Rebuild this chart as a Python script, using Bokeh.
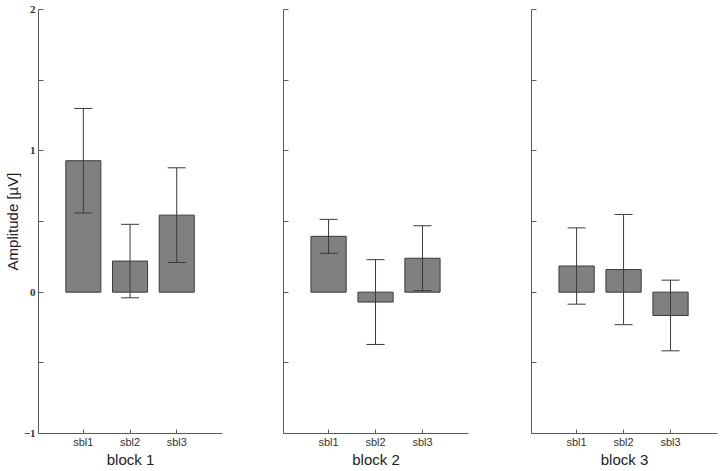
from bokeh.plotting import figure
from bokeh.layouts import row
from bokeh.models import FixedTicker, Whisker, ColumnDataSource, TeeHead
from bokeh.embed import file_html
from bokeh.resources import INLINE

categories = ["sbl1", "sbl2", "sbl3"]
block_names = ["block 1", "block 2", "block 3"]

block1_mean = [0.93, 0.22, 0.545]
block1_err = [0.37, 0.26, 0.335]
block2_mean = [0.395, -0.07, 0.24]
block2_err = [0.12, 0.30, 0.23]
block3_mean = [0.185, 0.16, -0.165]
block3_err = [0.27, 0.39, 0.25]

y_ticks = [-1, 0, 1, 2]
y_minor_ticks = [-0.5, 0.5, 1.5]

AXIS_COLOR = "#5a5a5a"
BAR_FILL = "#808080"
BAR_LINE = "#3a3a3a"
ERR_COLOR = "#3a3a3a"


def make_panel(name, means, errs, first, width, min_left, min_right, x_start, x_end):
    p = figure(width=width, height=471, x_range=(x_start, x_end), y_range=(-1, 2),
               output_backend="svg", toolbar_location=None,
               min_border_left=min_left, min_border_right=min_right,
               min_border_top=9, min_border_bottom=38)
    p.outline_line_color = None
    p.xgrid.visible = False
    p.ygrid.visible = False
    p.background_fill_color = "white"

    xs = list(range(1, len(categories) + 1))
    upper = [m + e for m, e in zip(means, errs)]
    lower = [m - e for m, e in zip(means, errs)]
    src = ColumnDataSource(dict(x=xs, top=means, upper=upper, lower=lower))

    p.vbar(x="x", top="top", bottom=0, width=0.75, source=src,
           fill_color=BAR_FILL, line_color=BAR_LINE, line_width=1)
    w = Whisker(source=src, base="x", upper="upper", lower="lower",
                line_color=ERR_COLOR, line_width=1, level="overlay",
                upper_head=TeeHead(size=18, line_color=ERR_COLOR, line_width=1),
                lower_head=TeeHead(size=18, line_color=ERR_COLOR, line_width=1))
    p.add_layout(w)

    # x axis
    xa = p.xaxis[0]
    xa.ticker = FixedTicker(ticks=xs, minor_ticks=[])
    xa.major_label_overrides = {x: c for x, c in zip(xs, categories)}
    xa.major_tick_in = 4
    xa.major_tick_out = 0
    xa.minor_tick_line_color = None
    xa.axis_line_color = AXIS_COLOR
    xa.major_tick_line_color = AXIS_COLOR
    xa.major_label_text_font = "Liberation Sans"
    xa.major_label_text_font_size = "11px"
    xa.major_label_text_color = "#333333"
    xa.major_label_standoff = 2
    xa.axis_label = name
    xa.axis_label_text_font = "Liberation Sans"
    xa.axis_label_text_font_size = "15px"
    xa.axis_label_text_font_style = "normal"
    xa.axis_label_text_color = "#222222"
    xa.axis_label_standoff = 0

    # y axis
    ya = p.yaxis[0]
    ya.ticker = FixedTicker(ticks=y_ticks, minor_ticks=y_minor_ticks)
    ya.major_tick_in = 5
    ya.major_tick_out = 0
    ya.minor_tick_in = 5
    ya.minor_tick_out = 0
    ya.axis_line_color = AXIS_COLOR
    ya.major_tick_line_color = AXIS_COLOR
    ya.minor_tick_line_color = AXIS_COLOR
    if first:
        ya.major_label_overrides = {-1: "\u22121", 0: "0", 1: "1", 2: "2"}
        ya.major_label_text_font = "Liberation Serif"
        ya.major_label_text_font_size = "11px"
        ya.major_label_text_font_style = "bold"
        ya.major_label_text_color = "#333333"
        ya.major_label_standoff = 3
        ya.axis_label = "Amplitude [\u00b5V]"
        ya.axis_label_text_font = "Liberation Sans"
        ya.axis_label_text_font_size = "15px"
        ya.axis_label_text_font_style = "normal"
        ya.axis_label_text_color = "#222222"
        ya.axis_label_standoff = 0
    else:
        ya.major_label_overrides = {t: "" for t in y_ticks}
        ya.major_label_standoff = 0
    return p


p1 = make_panel(block_names[0], block1_mean, block1_err, True, 263, 37, 41, 0.04, 3.98)
p2 = make_panel(block_names[1], block2_mean, block2_err, False, 248, 20, 43, 0.04, 3.98)
p3 = make_panel(block_names[2], block3_mean, block3_err, False, 209, 20, 3, 0.04, 4.0)

layout = row(p1, p2, p3)
open("out.html", "w").write(file_html(layout, INLINE))
